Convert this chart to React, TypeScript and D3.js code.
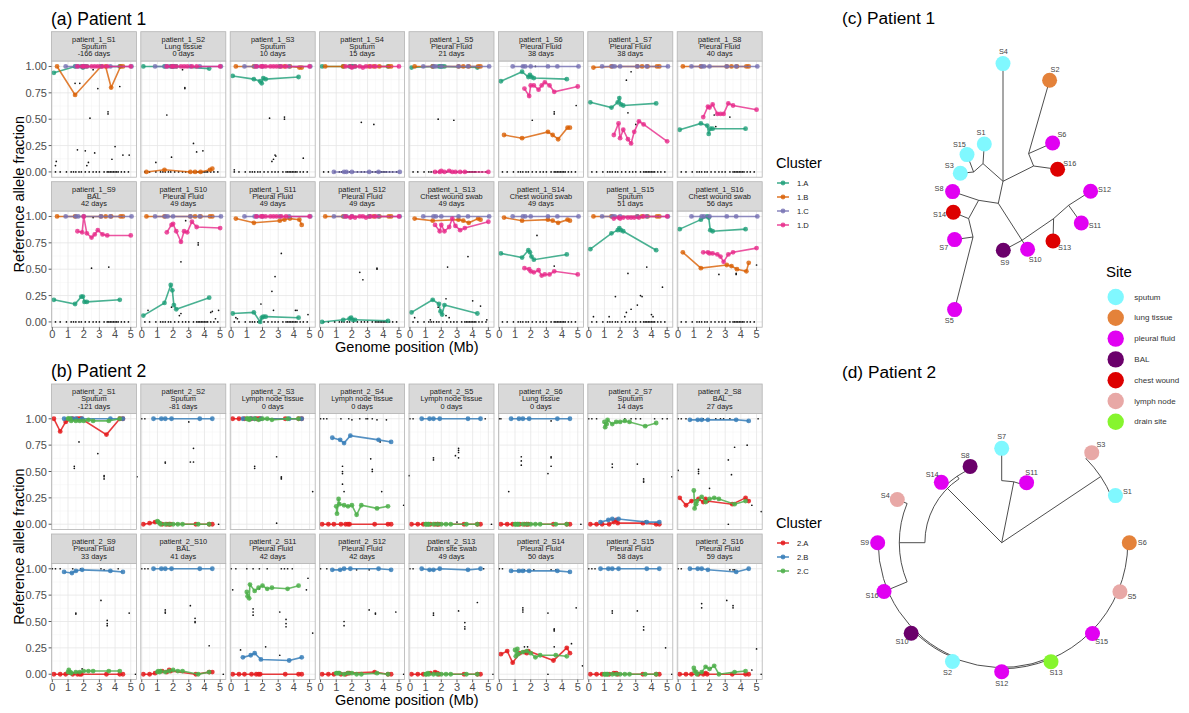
import React from "react";
import * as d3 from "d3";

const FONT = "'Liberation Sans', Arial, Helvetica, sans-serif";

// ---------------- shared axis data ----------------
const xTicks = [0, 1, 2, 3, 4, 5];
const yTicks = [0, 0.25, 0.5, 0.75, 1];
const yTickLabels = ["0.00", "0.25", "0.50", "0.75", "1.00"];

// ---------------- Patient 1 ----------------
const p1Sites = ["Sputum", "Lung tissue", "Sputum", "Sputum", "Pleural Fluid", "Pleural Fluid", "Pleural Fluid", "Pleural Fluid",
  "BAL", "Pleural Fluid", "Pleural Fluid", "Pleural Fluid", "Chest wound swab", "Chest wound swab", "Sputum", "Chest wound swab"];
const p1Days = ["-166 days", "0 days", "10 days", "15 days", "21 days", "38 days", "38 days", "40 days",
  "42 days", "49 days", "49 days", "49 days", "49 days", "49 days", "51 days", "56 days"];
const p1Clusters = ["1.A", "1.B", "1.C", "1.D"];
const p1ClusterColors = ["#1B9E77", "#D95F02", "#7570B3", "#E7298A"];

const p1PosA = [0.1, 1.45, 1.85, 1.95, 2.05, 2.2, 4.3];
const p1A = [
  [0.94, 1, 1, 0.99, 1, 1, 1],
  [1, 1, 1, 1, 1, 1, 0.98],
  [0.91, 0.88, 0.86, 0.84, 0.89, 0.88, 0.9],
  [1, 1, 1, 1, 1, 1, 1],
  [0.99, 1, 1, 1, 1, 1, 0.99],
  [0.86, 0.95, 0.9, 0.92, 0.9, 0.89, 0.88],
  [0.66, 0.61, 0.66, 0.7, 0.64, 0.63, 0.65],
  [0.4, 0.46, 0.44, 0.36, 0.41, 0.41, 0.41],
  [0.21, 0.17, 0.24, 0.24, 0.19, 0.19, 0.21],
  [0.06, 0.18, 0.35, 0.3, 0.16, 0.12, 0.23],
  [0.08, 0.09, 0.0, 0.04, 0.05, 0.05, 0.04],
  [0.0, 0.02, 0.03, 0.04, 0.02, 0.02, 0.01],
  [0.09, 0.21, 0.17, 0.1, 0.07, 0.16, 0.08],
  [0.65, 0.61, 0.68, 0.66, 0.62, 0.59, 0.64],
  [0.69, 0.84, 0.87, 0.89, 0.87, 0.86, 0.68],
  [0.88, 0.97, 1.0, 0.99, 0.87, 0.86, 0.88],
];
const p1PosB = [0.3, 1.45, 3.1, 3.4, 3.75, 4.35, 4.5];
const p1B = [
  [1, 0.73, 1, 1, 0.8, 1, 1],
  [0, 0.02, 0, 0, 0, 0.02, 0.03],
  [1, 1, 1, 1, 1, 0.99, 0.99],
  [1, 1, 1, 1, 1, 1, 1],
  [1, 1, 1, 1, 1, 1, 1],
  [0.35, 0.32, 0.38, 0.35, 0.31, 0.42, 0.42],
  [0.99, 1, 1, 1, 1, 1, 1],
  [1, 1, 1, 1, 1, 1, 1],
  [1, 1, 1, 1, 1, 1, 1],
  [1, 1, 1, 1, 1, 1, 1],
  [0.98, 0.94, 0.96, 0.97, 0.98, 0.97, 0.92],
  [1, 1, 1, 1, 1, 1, 1],
  [0.98, 0.96, 0.97, 0.96, 0.94, 0.98, 0.97],
  [0.99, 0.96, 0.97, 0.96, 0.94, 0.97, 0.96],
  [1, 1, 1, 1, 1, 1, 1],
  [0.66, 0.51, 0.54, 0.53, 0.5, 0.48, 0.56],
];
const p1PosC = [0.85, 1.5, 1.65, 2.0, 3.1, 3.7, 5.05];
const p1C = [
  [1, 1, 1, 1, 1, 1, 1], [1, 1, 1, 1, 1, 1, 1], [1, 1, 1, 1, 1, 1, 1], [0, 0, 0, 0, 0, 0, 0],
  [1, 1, 1, 1, 1, 1, 1], [1, 1, 1, 1, 1, 1, 1], [1, 1, 1, 1, 1, 1, 1], [1, 1, 1, 1, 1, 1, 1],
  [1, 1, 1, 1, 1, 1, 1], [1, 1, 1, 1, 1, 1, 1], [1, 1, 1, 1, 1, 1, 1], [1, 1, 1, 1, 1, 1, 1],
  [1, 1, 1, 1, 1, 1, 1], [1, 1, 1, 1, 1, 1, 1], [1, 1, 1, 1, 1, 1, 1], [1, 1, 1, 1, 1, 1, 1],
];
const p1PosD = [1.6, 1.9, 2.0, 2.2, 2.5, 2.7, 2.9, 3.2, 3.5, 5.0];
const p1D = [
  [1, 1, 1, 1, 1, 1, 1, 1, 1, 1],
  [1, 1, 1, 1, 1, 1, 1, 1, 1, 1],
  [1, 1, 1, 1, 1, 1, 1, 1, 1, 1],
  [1, 1, 0.99, 1, 1, 0.99, 1, 1, 1, 1],
  [0, 0, 0.01, 0, 0.01, 0, 0, 0, 0, 0],
  [0.79, 0.72, 0.82, 0.82, 0.78, 0.82, 0.85, 0.82, 0.76, 0.81],
  [0.35, 0.46, 0.32, 0.4, 0.31, 0.27, 0.38, 0.48, 0.45, 0.29],
  [0.52, 0.62, 0.61, 0.64, 0.55, 0.55, 0.55, 0.65, 0.63, 0.59],
  [0.86, 0.85, 1.0, 0.84, 0.8, 0.83, 0.87, 0.83, 0.82, 0.82],
  [0.85, 0.92, 0.93, 0.86, 0.76, 0.86, 0.85, 0.95, 0.9, 0.89],
  [1, 1, 1, 1, 1, 1, 1, 1, 1, 1],
  [1, 0.99, 1, 0.99, 1, 1, 0.99, 1, 1, 1],
  [0.92, 0.86, 0.92, 0.86, 0.9, 0.98, 0.91, 0.87, 0.89, 0.95],
  [0.51, 0.5, 0.48, 0.47, 0.49, 0.44, 0.45, 0.45, 0.48, 0.45],
  [0.98, 0.99, 0.98, 0.99, 0.99, 0.99, 0.99, 0.99, 1, 1],
  [0.66, 0.66, 0.65, 0.65, 0.64, 0.62, 0.57, 0.64, 0.66, 0.7],
];
const p1ZeroX = [0.2, 0.5, 0.9, 1.2, 1.35, 1.5, 1.7, 1.85, 2.1, 2.35, 2.6, 2.8, 3.0, 3.3, 3.5, 3.6, 3.7, 3.8, 3.9, 4.0, 4.1, 4.2, 4.4, 4.6, 4.85];
const p1Noise = [
  [[0.2, 0.06], [0.25, 0.1], [1.45, 0.84], [1.75, 0.84], [1.6, 0.21], [2.1, 0.2], [2.4, 0.51], [2.2, 0.06], [2.3, 0.09], [2.7, 0.18], [2.9, 0.79], [3.55, 0.57], [3.55, 0.55], [3.8, 0.12], [4.0, 0.24], [4.3, 0.81], [4.5, 0.16], [4.9, 0.16], [2.6, 0.97]],
  [[0.9, 0.09], [1.6, 0.54], [1.9, 0.14], [2.6, 0.97], [2.75, 0.79], [2.75, 0.8], [3.3, 0.27], [3.5, 0.19], [3.9, 0.2]],
  [[2.45, 0.51], [3.4, 0.52], [3.4, 0.5], [2.6, 0.1], [2.7, 0.12], [2.8, 0.16], [2.85, 0.15], [4.6, 0.13], [0.2, 0.02]],
  [[2.6, 0.47], [3.4, 0.45]],
  [[1.8, 0.5], [2.8, 0.49]],
  [[2.1, 0.49], [3.5, 0.55], [3.5, 0.57], [4.9, 0.63], [1.5, 1.0], [2.3, 1.0]],
  [[2.4, 0.87], [2.7, 0.95], [2.5, 0.56], [3.0, 0.45]],
  [[2.3, 0.54], [3.3, 0.52], [2.4, 0.43]],
  [[2.5, 0.51], [3.6, 0.52], [2.6, 0.99]],
  [[2.5, 0.57], [3.6, 0.75], [3.6, 0.73], [2.8, 0.96], [1.9, 0.14], [2.5, 0.08], [2.4, 0.06], [0.4, 0.11], [4.4, 0.09], [4.5, 0.1], [4.9, 0.11], [4.7, 0.03]],
  [[3.2, 0.65], [2.8, 0.43], [2.6, 0.29], [1.9, 0.17], [2.7, 0.11], [4.1, 0.11], [4.2, 0.11], [4.9, 0.07], [0.3, 0.04], [0.4, 0.03]],
  [[2.5, 0.47], [2.7, 0.4], [3.6, 0.51], [3.6, 0.5]],
  [[2.4, 0.52], [3.7, 0.62], [1.8, 0.14], [2.3, 0.22], [2.3, 0.06], [2.5, 0.04], [4.0, 0.2], [4.5, 0.15], [4.9, 0.02], [1.3, 0.02], [0.3, 0.04]],
  [[2.4, 0.82], [3.5, 0.53]],
  [[3.7, 0.52], [2.5, 0.46], [1.7, 0.24], [3.3, 0.25], [3.4, 0.24], [3.1, 0.16], [2.7, 0.12], [2.4, 0.09], [4.0, 0.07], [4.1, 0.05], [4.7, 0.33], [0.3, 0.05], [1.3, 0.05], [2.3, 0.05]],
  [[3.7, 0.45], [3.7, 0.46], [5.0, 0.54], [2.6, 0.45]],
];

// ---------------- Patient 2 ----------------
const p2Sites = ["Sputum", "Sputum", "Lymph node tissue", "Lymph node tissue", "Lymph node tissue", "Lung tissue", "Sputum", "BAL",
  "Pleural Fluid", "BAL", "Pleural Fluid", "Pleural Fluid", "Drain site swab", "Pleural Fluid", "Pleural Fluid", "Pleural Fluid"];
const p2Days = ["-121 days", "-81 days", "0 days", "0 days", "0 days", "0 days", "14 days", "27 days",
  "33 days", "41 days", "42 days", "42 days", "49 days", "50 days", "58 days", "59 days"];
const p2Clusters = ["2.A", "2.B", "2.C"];
const p2ClusterColors = ["#E41A1C", "#377EB8", "#4DAF4A"];

const p2PosA = [0.1, 0.5, 0.85, 1.3, 1.6, 1.75, 1.85, 3.45, 4.3, 4.5];
const p2A = [
  [1, 0.88, 0.97, 1, 1, 1, 1, 0.85, 1, 1],
  [0, 0.01, 0.02, 0, 0, 0, 0, 0, 0, 0],
  [1, 1, 1, 1, 1, 1, 1, 1, 1, 1],
  [0, 0, 0, 0, 0, 0, 0, 0, 0, 0],
  [0, 0, 0, 0, 0, 0, 0, 0, 0, 0],
  [0, 0, 0, 0, 0, 0, 0, 0, 0, 0],
  [0, 0, 0, 0, 0.02, 0.04, 0.01, 0.01, 0, 0],
  [0.25, 0.18, 0.22, 0.24, 0.21, 0.24, 0.22, 0.19, 0.25, 0.22],
  [0, 0, 0, 0, 0, 0, 0, 0, 0, 0],
  [0, 0, 0.01, 0.03, 0.02, 0.04, 0.03, 0, 0.02, 0.02],
  [0, 0, 0, 0, 0, 0, 0, 0, 0, 0],
  [0, 0, 0, 0, 0, 0.01, 0.01, 0.02, 0, 0],
  [0, 0, 0, 0.01, 0.02, 0.01, 0, 0, 0, 0],
  [0.19, 0.22, 0.11, 0.2, 0.21, 0.2, 0.22, 0.13, 0.25, 0.2],
  [0, 0, 0, 0, 0.01, 0.01, 0, 0, 0, 0],
  [0, 0, 0, 0, 0, 0.01, 0, 0, 0, 0],
];
const p2PosB = [0.75, 1.25, 1.5, 1.9, 3.7, 4.5];
const p2B = [
  [1, 1, 1, 1, 1, 1],
  [1, 1, 1, 1, 1, 1],
  [1, 1, 1, 1, 1, 1],
  [0.82, 0.8, 0.77, 0.84, 0.8, 0.78],
  [1, 1, 1, 1, 1, 1],
  [1, 1, 1, 1, 1, 1],
  [0.02, 0.04, 0.05, 0.05, 0.02, 0.02],
  [0.99, 0.99, 0.99, 0.99, 0.99, 0.98],
  [0.97, 0.96, 0.98, 0.99, 0.98, 0.97],
  [1, 1, 1, 1, 1, 1],
  [0.16, 0.18, 0.2, 0.14, 0.13, 0.16],
  [0.99, 0.99, 1, 1, 1, 0.99],
  [1, 0.99, 0.99, 1, 0.99, 1],
  [0.98, 0.98, 0.98, 0.98, 0.98, 0.97],
  [1, 1, 1, 1, 1, 1],
  [1, 1, 1, 0.99, 0.97, 1],
];
const p2PosC = [1.0, 1.05, 1.15, 1.2, 1.5, 1.75, 2.0, 2.3, 2.6, 3.6, 4.3];
const p2C = [
  [1, 1, 1, 0.98, 0.98, 0.98, 0.98, 0.99, 0.98, 0.98, 1],
  [0.03, 0.02, 0.01, 0, 0, 0, 0, 0, 0, 0, 0],
  [1, 1, 0.99, 1, 1, 0.99, 1, 1, 0.99, 1, 1],
  [0.17, 0.1, 0.24, 0.19, 0.18, 0.17, 0.18, 0.09, 0.18, 0.15, 0.17],
  [0, 0, 0, 0, 0, 0, 0, 0, 0, 0, 0],
  [0, 0, 0, 0, 0, 0, 0, 0, 0, 0, 0],
  [0.97, 0.92, 0.95, 0.99, 0.95, 0.97, 0.97, 0.98, 0.97, 0.93, 0.96],
  [0.32, 0.15, 0.19, 0.22, 0.26, 0.21, 0.24, 0.25, 0.24, 0.19, 0.22],
  [0.02, 0.04, 0.02, 0.01, 0.02, 0.02, 0.03, 0.03, 0.03, 0.03, 0.03],
  [0.02, 0.03, 0.02, 0.03, 0.02, 0.03, 0.04, 0.03, 0.03, 0, 0.02],
  [0.78, 0.74, 0.72, 0.85, 0.79, 0.82, 0.84, 0.81, 0.82, 0.81, 0.84],
  [0.01, 0.01, 0.01, 0.01, 0, 0.01, 0.01, 0, 0, 0.01, 0],
  [0, 0, 0.01, 0, 0, 0, 0, 0, 0, 0, 0],
  [0.23, 0.17, 0.24, 0.19, 0.21, 0.22, 0.2, 0.16, 0.18, 0.18, 0.17],
  [0, 0, 0, 0, 0, 0, 0, 0, 0, 0, 0],
  [0.06, 0.03, 0.02, 0, 0.02, 0.07, 0.05, 0.08, 0, 0.02, 0.03],
];
const p2ZeroX: number[] = [];
const p2Noise = [
  [[1.4, 0.55], [1.4, 0.53], [1.7, 0.78], [2.9, 0.67], [3.3, 0.45], [3.3, 0.43], [3.3, 0.46], [5.4, 0.45], [2.0, 0.99]],
  [[1.5, 0.59], [1.5, 0.58], [3.1, 0.59], [3.3, 0.72], [3.3, 0.59], [3.0, 0.97], [4.9, 0.0], [0.0, 1.0], [0.2, 1.0]],
  [[1.5, 0.55], [1.5, 0.53], [2.9, 0.64], [3.2, 0.45], [3.2, 0.43], [3.2, 0.44], [5.2, 0.31], [2.9, 0.01]],
  [[1.4, 0.55], [1.4, 0.5], [1.4, 0.48], [1.4, 0.38], [1.5, 0.31], [3.3, 0.5], [3.3, 0.52], [3.2, 0.62], [3.8, 0.78], [3.9, 0.31], [5.3, 0.18], [0.0, 1.0], [0.2, 1.0], [0.4, 1.0], [1.3, 1.0], [1.8, 1.0], [2.5, 1.0], [2.9, 1.0], [3.0, 1.0], [3.3, 1.0], [3.6, 0.99], [4.2, 0.99], [2.0, 0.99]],
  [[1.5, 0.63], [1.5, 0.61], [3.1, 0.72], [3.1, 0.7], [3.1, 0.68], [2.9, 0.65], [3.1, 0.63], [-0.05, 0.46], [3.0, 0.02], [5.2, 0.0], [0.0, 1.0], [0.2, 1.0], [4.8, 1.0]],
  [[1.4, 0.64], [1.4, 0.6], [1.4, 0.56], [3.3, 0.64], [3.3, 0.63], [3.3, 0.55], [3.1, 0.48], [0.6, 0.31], [5.2, 0.0], [3.3, 0.98], [0.0, 1.0], [0.1, 1.0]],
  [[1.5, 0.57], [1.5, 0.54], [3.1, 0.57], [3.5, 0.43], [3.5, 0.41], [3.5, 0.4], [5.3, 0.45], [0.0, 1.0], [0.2, 1.0], [0.5, 1.0], [2.3, 1.0], [2.7, 1.0], [3.0, 1.0], [3.3, 1.0], [4.2, 1.0], [4.7, 1.0], [5.0, 1.0], [3.6, 0.03]],
  [[0.0, 0.51], [1.3, 0.52], [1.3, 0.5], [1.3, 0.48], [3.2, 0.61], [3.6, 0.73], [3.4, 0.47], [4.4, 0.75], [2.0, 0.34], [5.3, 0.12], [3.2, 0.0], [4.7, 0.18], [0.0, 1.0], [0.2, 1.0], [0.5, 1.0], [1.6, 1.0], [2.4, 1.0], [2.7, 1.0], [2.9, 1.0], [3.3, 1.0], [5.1, 1.0]],
  [[1.5, 0.58], [1.5, 0.57], [3.1, 0.7], [3.5, 0.51], [3.5, 0.48], [3.5, 0.46], [4.9, 0.58], [5.3, 0.0], [1.9, 0.05], [0.0, 1.0], [0.2, 1.0], [0.5, 1.0], [1.3, 1.0], [1.8, 1.0], [3.1, 1.0], [3.3, 0.99], [4.2, 1.0]],
  [[1.5, 0.61], [1.5, 0.59], [1.5, 0.58], [3.1, 0.65], [3.4, 0.53], [3.4, 0.5], [3.4, 0.49], [4.3, 0.27], [5.2, 0.0], [0.0, 1.0], [0.2, 1.0], [0.4, 1.0]],
  [[0.1, 0.8], [1.4, 0.62], [1.4, 0.59], [1.4, 0.56], [1.8, 0.81], [2.2, 0.26], [3.1, 0.59], [3.5, 0.52], [3.5, 0.48], [3.5, 0.45], [3.1, 0.18], [0.6, 0.23], [4.8, 0.8], [4.9, 0.91], [5.2, 0.39], [0.0, 1.0], [0.3, 1.0], [1.0, 1.0], [1.4, 1.0], [1.8, 1.0], [2.3, 1.0], [3.2, 1.0], [3.4, 1.0], [3.6, 1.0], [3.9, 1.0]],
  [[1.5, 0.5], [1.5, 0.46], [3.1, 0.61], [3.5, 0.58], [3.5, 0.57], [4.8, 0.59], [5.3, 0.0], [2.3, 0.99], [3.1, 0.99], [0.0, 1.0], [0.4, 1.0]],
  [[1.5, 0.58], [1.5, 0.56], [3.1, 0.6], [3.5, 0.49], [3.5, 0.45], [3.5, 0.43], [4.3, 0.68], [5.3, 0.0], [0.0, 1.0], [0.2, 1.0], [4.7, 1.0]],
  [[1.5, 0.63], [1.5, 0.61], [1.5, 0.59], [3.1, 0.58], [3.5, 0.43], [3.5, 0.42], [3.5, 0.41], [4.9, 0.63], [4.6, 0.29], [5.3, 0.08], [3.1, 0.0], [1.6, 0.26], [1.8, 0.26], [3.5, 0.26], [0.0, 1.0], [0.2, 1.0], [1.6, 0.99], [2.2, 0.99], [3.3, 0.99], [3.6, 0.99]],
  [[1.5, 0.6], [1.5, 0.58], [3.1, 0.6], [3.5, 0.45], [3.5, 0.42], [4.9, 0.25], [5.3, 0.0], [0.0, 1.0], [0.2, 1.0], [0.4, 1.0]],
  [[1.5, 0.67], [1.5, 0.63], [3.1, 0.7], [3.5, 0.65], [3.5, 0.63], [5.0, 0.24], [5.3, 0.0], [4.7, 0.04], [1.8, 0.07], [2.1, 0.06], [0.0, 1.0], [0.2, 1.0], [3.3, 0.99], [3.5, 0.99], [3.6, 0.99]],
];

// ---------------- Sites / trees ----------------
const siteNames = ["sputum", "lung tissue", "pleural fluid", "BAL", "chest wound", "lymph node", "drain site"];
const siteColors = ["#80F8FF", "#E4823A", "#E100F2", "#6B006B", "#DD0000", "#E8A8A6", "#86F52E"];
const p1TipSites: Record<string, string> = {
  S1: "sputum", S2: "lung tissue", S3: "sputum", S4: "sputum", S5: "pleural fluid", S6: "pleural fluid",
  S7: "pleural fluid", S8: "pleural fluid", S9: "BAL", S10: "pleural fluid", S11: "pleural fluid",
  S12: "pleural fluid", S13: "chest wound", S14: "chest wound", S15: "sputum", S16: "chest wound",
};
const p2TipSites: Record<string, string> = {
  S1: "sputum", S2: "sputum", S3: "lymph node", S4: "lymph node", S5: "lymph node", S6: "lung tissue",
  S7: "sputum", S8: "BAL", S9: "pleural fluid", S10: "BAL", S11: "pleural fluid", S12: "pleural fluid",
  S13: "drain site", S14: "pleural fluid", S15: "pleural fluid", S16: "pleural fluid",
};

// unrooted layout of patient 1 tree: [id, parent, x, y] in tree units
const tree1Nodes: [string, string, number, number][] = [
  ["R", "", 0, 0],
  ["N1", "R", 0.47, 2.2],
  ["S4", "N1", 0.47, 13.97],
  ["N2", "N1", -1.53, 3.97],
  ["S1", "N2", -1.4, 5.93],
  ["N3", "N2", -2.47, 3.13],
  ["S15", "N3", -3.13, 4.87],
  ["S3", "N3", -3.8, 3.0],
  ["N4", "N1", 3.53, 3.73],
  ["N5", "N4", 3.03, 4.97],
  ["S2", "N5", 5.13, 12.3],
  ["S6", "N5", 5.43, 6.03],
  ["S16", "N4", 5.93, 3.4],
  ["N6", "R", -1.97, 0.3],
  ["S8", "N6", -4.57, 1.17],
  ["N7", "N6", -2.97, -1.53],
  ["S14", "N7", -4.5, -0.9],
  ["N8", "N7", -2.53, -3.37],
  ["S7", "N8", -4.37, -3.63],
  ["S5", "N8", -4.37, -10.63],
  ["N9", "R", 2.37, -3.7],
  ["S9", "N9", 0.5, -4.7],
  ["S10", "N9", 2.93, -4.6],
  ["N10", "N9", 5.53, -1.53],
  ["S13", "N10", 5.47, -3.77],
  ["N11", "N10", 7.03, -0.2],
  ["S12", "N11", 9.23, 1.2],
  ["S11", "N11", 8.3, -1.97],
];

// circular layout of patient 2 tree: [id, parent, angle (deg, clockwise from top), distance from root]
const tree2Nodes: [string, string, number, number][] = [
  ["R", "", 0, 0],
  ["nA", "R", 11.25, 0.485],
  ["S7", "nA", 0, 0.737],
  ["S11", "nA", 22.5, 0.508],
  ["nB", "R", 56.25, 0.93],
  ["S3", "nB", 45, 0.995],
  ["S1", "nB", 67.5, 0.962],
  ["nC", "R", 315, 0.6],
  ["nE", "nC", 326.25, 0.625],
  ["S14", "nE", 315, 0.667],
  ["S8", "nE", 337.5, 0.645],
  ["nF", "nC", 270, 0.8],
  ["S4", "nF", 292.5, 0.883],
  ["nG", "nF", 247.5, 0.965],
  ["S9", "nG", 270, 0.969],
  ["S16", "nG", 247.5, 0.995],
  ["nH", "nG", 202.5, 0.975],
  ["S10", "nH", 225, 1.0],
  ["S2", "nH", 202.5, 1.005],
  ["nI", "nH", 157.5, 0.985],
  ["S12", "nI", 180, 1.008],
  ["S13", "nI", 157.5, 1.006],
  ["S15", "nI", 135, 1.003],
  ["S5", "nI", 112.5, 1.0],
  ["S6", "nI", 90, 0.997],
];

// ---------------- layout constants ----------------
const COL0 = 51.4;
const COLSTEP = 89.4;
const PANEL_W = 85;
const STRIP_H = 29.5;
const PANEL_H = 116;
const X_DOMAIN: [number, number] = [-0.06, 5.36];
const Y_DOMAIN: [number, number] = [-0.05, 1.05];

const siteColor = (s: string) => siteColors[siteNames.indexOf(s)];

function FacetGrid(props: {
  prefix: string; sites: string[]; days: string[]; rowTops: number[];
  pos: number[][]; vals: number[][][]; colors: string[]; noise: number[][][]; zeroX: number[]; opacity: number;
}) {
  const { prefix, sites, days, rowTops, pos, vals, colors, noise, zeroX, opacity } = props;
  const out: any[] = [];
  const xMinor = xTicks.slice(1).map((t, i) => (t + xTicks[i]) / 2);
  const yMinor = yTicks.slice(1).map((t, i) => (t + yTicks[i]) / 2);
  for (let i = 0; i < sites.length; i++) {
    const row = Math.floor(i / 8), col = i % 8;
    const left = COL0 + col * COLSTEP;
    const sTop = rowTops[row];
    const pTop = sTop + STRIP_H;
    const pBot = pTop + PANEL_H;
    const x = d3.scaleLinear().domain(X_DOMAIN).range([left, left + PANEL_W]);
    const y = d3.scaleLinear().domain(Y_DOMAIN).range([pBot, pTop]);
    const line = d3.line<[number, number]>().x((d) => x(d[0])).y((d) => y(d[1]));
    const g: any[] = [];
    // strip
    g.push(<rect key="s" x={left} y={sTop} width={PANEL_W} height={STRIP_H} fill="#D9D9D9" stroke="#B3B3B3" strokeWidth={0.8} />);
    const lines = [`${prefix}_S${i + 1}`, sites[i], days[i]];
    lines.forEach((t, k) => g.push(
      <text key={"st" + k} x={left + PANEL_W / 2} y={sTop + 7.6 + k * 7.3} fontSize={7.4} fill="#1A1A1A" textAnchor="middle" dominantBaseline="central">{t}</text>
    ));
    g.push(<rect key="bg" x={left} y={pTop} width={PANEL_W} height={PANEL_H} fill="#FFFFFF" />);
    xMinor.forEach((t, k) => g.push(<line key={"xm" + k} x1={x(t)} x2={x(t)} y1={pTop} y2={pBot} stroke="#F2F2F2" strokeWidth={0.5} />));
    yMinor.forEach((t, k) => g.push(<line key={"ym" + k} x1={left} x2={left + PANEL_W} y1={y(t)} y2={y(t)} stroke="#F2F2F2" strokeWidth={0.5} />));
    xTicks.forEach((t, k) => g.push(<line key={"xg" + k} x1={x(t)} x2={x(t)} y1={pTop} y2={pBot} stroke="#E6E6E6" strokeWidth={0.8} />));
    yTicks.forEach((t, k) => g.push(<line key={"yg" + k} x1={left} x2={left + PANEL_W} y1={y(t)} y2={y(t)} stroke="#E6E6E6" strokeWidth={0.8} />));
    // noise
    zeroX.forEach((v, k) => g.push(<circle key={"z" + k} cx={x(v)} cy={y(0)} r={0.85} fill="#111" />));
    noise[i].forEach((p, k) => g.push(<circle key={"n" + k} cx={x(p[0])} cy={y(p[1])} r={0.85} fill="#111" />));
    // clusters
    pos.forEach((px, c) => {
      const pts: [number, number][] = px.map((v, k) => [v, vals[c][i][k]]);
      pts.sort((a, b) => a[0] - b[0]);
      g.push(<path key={"l" + c} d={line(pts) || ""} fill="none" stroke={colors[c]} strokeWidth={1.6} strokeOpacity={opacity} />);
      pts.forEach((p, k) => g.push(<circle key={"p" + c + "_" + k} cx={x(p[0])} cy={y(p[1])} r={2.4} fill={colors[c]} fillOpacity={opacity} />));
    });
    g.push(<rect key="bd" x={left} y={pTop} width={PANEL_W} height={PANEL_H} fill="none" stroke="#B3B3B3" strokeWidth={0.8} />);
    // y axis
    if (col === 0) {
      yTicks.forEach((t, k) => {
        g.push(<line key={"yt" + k} x1={left - 2.8} x2={left} y1={y(t)} y2={y(t)} stroke="#333" strokeWidth={0.8} />);
        g.push(<text key={"yl" + k} x={left - 4.5} y={y(t)} fontSize={11} fill="#4D4D4D" textAnchor="end" dominantBaseline="central">{yTickLabels[k]}</text>);
      });
    }
    if (row === 1) {
      xTicks.forEach((t, k) => {
        g.push(<line key={"xt" + k} x1={x(t)} x2={x(t)} y1={pBot} y2={pBot + 2.8} stroke="#333" strokeWidth={0.8} />);
        g.push(<text key={"xl" + k} x={x(t)} y={pBot + 11} fontSize={11} fill="#4D4D4D" textAnchor="middle">{t}</text>);
      });
    }
    out.push(<g key={"panel" + i}>{g}</g>);
  }
  return <g>{out}</g>;
}

function ClusterLegend(props: { x: number; titleY: number; itemY0: number; names: string[]; colors: string[]; opacity: number }) {
  const { x, titleY, itemY0, names, colors, opacity } = props;
  return (
    <g>
      <text x={x} y={titleY} fontSize={14.5} fill="#000">Cluster</text>
      {names.map((n, i) => {
        const yy = itemY0 + i * 14;
        return (
          <g key={n}>
            <line x1={x + 1} x2={x + 13} y1={yy} y2={yy} stroke={colors[i]} strokeWidth={1.6} strokeOpacity={opacity} />
            <circle cx={x + 7} cy={yy} r={2.4} fill={colors[i]} fillOpacity={opacity} />
            <text x={x + 21} y={yy} fontSize={7.6} fill="#1A1A1A" dominantBaseline="central">{n}</text>
          </g>
        );
      })}
    </g>
  );
}

function Tree1() {
  const cx = 998.3, cy = 203.3;
  const sx = d3.scaleLinear().domain([-10, 10]).range([cx - 100, cx + 100]);
  const sy = d3.scaleLinear().domain([-10, 10]).range([cy + 100, cy - 100]);
  const byId = new Map(tree1Nodes.map((n) => [n[0], n]));
  const edges = tree1Nodes.filter((n) => n[1] !== "").map((n) => {
    const p = byId.get(n[1])!;
    return <line key={"e" + n[0]} x1={sx(p[2])} y1={sy(p[3])} x2={sx(n[2])} y2={sy(n[3])} stroke="#3A3A3A" strokeWidth={0.9} />;
  });
  const tips = tree1Nodes.filter((n) => n[0].startsWith("S"));
  return (
    <g>
      {edges}
      {tips.map((n) => {
        const ang = Math.atan2(n[3], n[2]);
        const lx = sx(n[2]) + 14 * Math.cos(ang);
        const ly = sy(n[3]) - 12 * Math.sin(ang);
        return (
          <g key={n[0]}>
            <circle cx={sx(n[2])} cy={sy(n[3])} r={7.5} fill={siteColor(p1TipSites[n[0]])} />
            <text x={lx} y={ly} fontSize={7.3} fill="#444" textAnchor="middle" dominantBaseline="central">{n[0]}</text>
          </g>
        );
      })}
    </g>
  );
}

function Tree2() {
  const cx = 1001.7, cy = 542.7;
  const rs = d3.scaleLinear().domain([0, 1]).range([0, 128]);
  const pt = (deg: number, r: number): [number, number] => {
    const a = (deg * Math.PI) / 180;
    return [cx + rs(r) * Math.sin(a), cy - rs(r) * Math.cos(a)];
  };
  const byId = new Map(tree2Nodes.map((n) => [n[0], n]));
  const els: any[] = [];
  tree2Nodes.forEach((n) => {
    if (n[1] === "") return;
    const p = byId.get(n[1])!;
    const a = pt(n[2], p[3]);
    const b = pt(n[2], n[3]);
    els.push(<line key={"r" + n[0]} x1={a[0]} y1={a[1]} x2={b[0]} y2={b[1]} stroke="#3A3A3A" strokeWidth={0.9} />);
  });
  tree2Nodes.forEach((n) => {
    const kids = tree2Nodes.filter((k) => k[1] === n[0]);
    if (!kids.length || n[3] === 0) return;
    const angs = kids.map((k) => k[2]);
    const a0 = d3.min(angs)!, a1 = d3.max(angs)!;
    const path = d3.path();
    const s = pt(a0, n[3]);
    path.moveTo(s[0], s[1]);
    path.arc(cx, cy, rs(n[3]), ((a0 - 90) * Math.PI) / 180, ((a1 - 90) * Math.PI) / 180, false);
    els.push(<path key={"a" + n[0]} d={path.toString()} fill="none" stroke="#3A3A3A" strokeWidth={0.9} />);
  });
  const tips = tree2Nodes.filter((n) => n[0].startsWith("S"));
  return (
    <g>
      {els}
      {tips.map((n) => {
        const [x, y] = pt(n[2], n[3]);
        const a = (n[2] * Math.PI) / 180;
        return (
          <g key={n[0]}>
            <circle cx={x} cy={y} r={7.5} fill={siteColor(p2TipSites[n[0]])} />
            <text x={x + 13 * Math.sin(a)} y={y - 11.5 * Math.cos(a)} fontSize={7.3} fill="#444" textAnchor="middle" dominantBaseline="central">{n[0]}</text>
          </g>
        );
      })}
    </g>
  );
}

function SiteLegend() {
  const x = 1106, y0 = 297, step = 20.8;
  return (
    <g>
      <text x={x} y={277} fontSize={15} fill="#000">Site</text>
      {siteNames.map((s, i) => (
        <g key={s}>
          <circle cx={x + 9.7} cy={y0 + i * step} r={8.2} fill={siteColors[i]} />
          <text x={x + 28.3} y={y0 + i * step} fontSize={8} fill="#333" dominantBaseline="central">{s}</text>
        </g>
      ))}
    </g>
  );
}

export default function App() {
  const p1Top = [31.7, 181.7];
  const p2Top = [384, 534];
  const gridCenterX = COL0 + (7 * COLSTEP + PANEL_W) / 2;
  return (
    <svg width={1189} height={713} viewBox="0 0 1189 713"
      style={{ position: "absolute", left: 0, top: 0, display: "block", background: "#fff", fontFamily: FONT }}>
      <rect x={0} y={0} width={1189} height={713} fill="#fff" />
      <text x={51} y={25} fontSize={17.5} fill="#000">(a) Patient 1</text>
      <text x={51} y={377} fontSize={17.5} fill="#000">(b) Patient 2</text>
      <text x={842} y={24} fontSize={17.3} fill="#000">(c) Patient 1</text>
      <text x={842} y={378} fontSize={17.3} fill="#000">(d) Patient 2</text>

      <FacetGrid prefix="patient_1" sites={p1Sites} days={p1Days} rowTops={p1Top}
        pos={[p1PosA, p1PosB, p1PosC, p1PosD]} vals={[p1A, p1B, p1C, p1D]} colors={p1ClusterColors}
        noise={p1Noise} zeroX={p1ZeroX} opacity={0.8} />
      <FacetGrid prefix="patient_2" sites={p2Sites} days={p2Days} rowTops={p2Top}
        pos={[p2PosA, p2PosB, p2PosC]} vals={[p2A, p2B, p2C]} colors={p2ClusterColors}
        noise={p2Noise} zeroX={p2ZeroX} opacity={0.85} />

      <text transform={`translate(19,${p1Top[0] + STRIP_H + (p1Top[1] + STRIP_H + PANEL_H - p1Top[0] - STRIP_H) / 2}) rotate(-90)`}
        fontSize={14.5} textAnchor="middle" dominantBaseline="central" fill="#000">Reference allele fraction</text>
      <text transform={`translate(19,${p2Top[0] + STRIP_H + (p2Top[1] + STRIP_H + PANEL_H - p2Top[0] - STRIP_H) / 2}) rotate(-90)`}
        fontSize={14.5} textAnchor="middle" dominantBaseline="central" fill="#000">Reference allele fraction</text>
      <text x={gridCenterX} y={352} fontSize={14.5} textAnchor="middle" fill="#000">Genome position (Mb)</text>
      <text x={gridCenterX} y={705} fontSize={14.5} textAnchor="middle" fill="#000">Genome position (Mb)</text>

      <ClusterLegend x={776} titleY={168} itemY0={183} names={p1Clusters} colors={p1ClusterColors} opacity={0.8} />
      <ClusterLegend x={776} titleY={528} itemY0={543} names={p2Clusters} colors={p2ClusterColors} opacity={0.85} />

      <Tree1 />
      <Tree2 />
      <SiteLegend />
    </svg>
  );
}
